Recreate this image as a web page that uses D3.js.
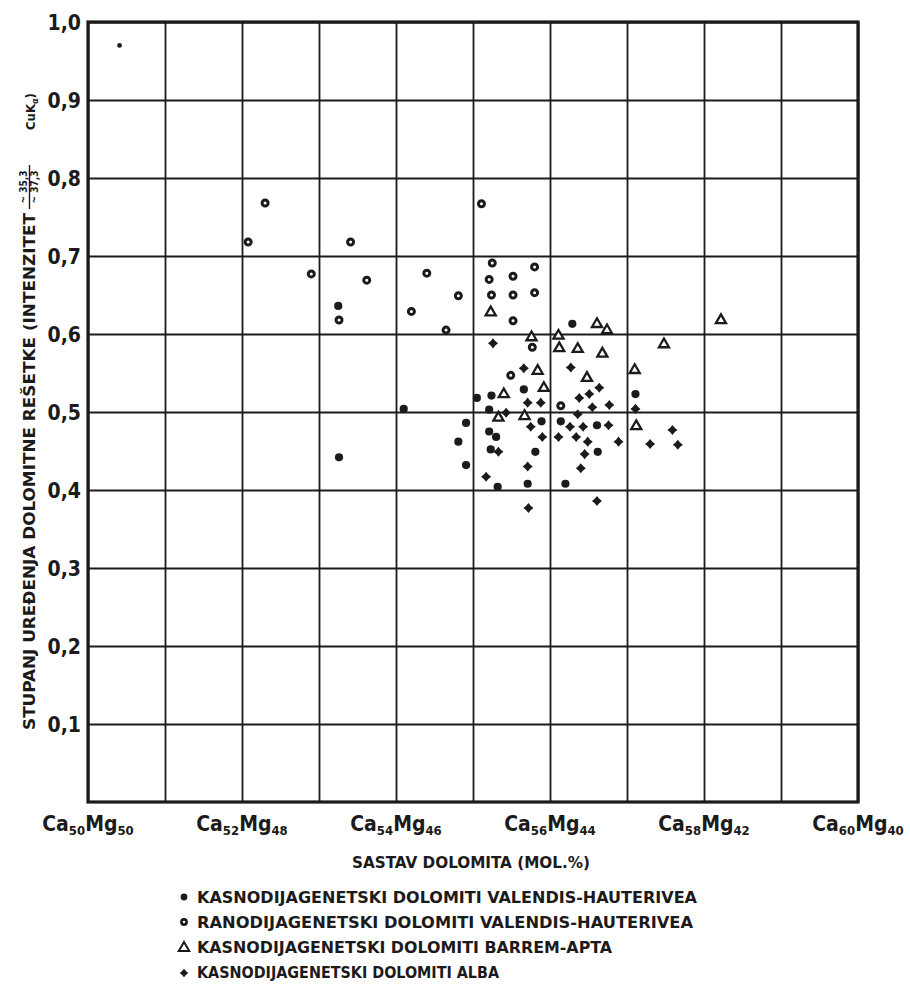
<!DOCTYPE html>
<html>
<head>
<meta charset="utf-8">
<script src="https://cdn.jsdelivr.net/npm/d3@7"></script>
<style>
  body { margin: 0; background: #fff; }
  svg { display: block; }
  text { fill: #1c1a1a; }
</style>
</head>
<body>
<div id="chart"></div>
<script>
// ticks on the axes
const xTicks = [50, 52, 54, 56, 58, 60];
const yTicks = [0.1, 0.2, 0.3, 0.4, 0.5, 0.6, 0.7, 0.8, 0.9, 1.0];

// Ca mol.% , ordering degree
const kasnoVH = [
  [50.41, 0.970], [53.25, 0.636], [53.26, 0.442], [54.10, 0.504], [54.91, 0.486],
  [54.81, 0.462], [54.91, 0.432], [55.05, 0.518], [55.24, 0.521], [55.21, 0.503],
  [55.21, 0.475], [55.30, 0.468], [55.23, 0.452], [55.32, 0.404], [55.66, 0.529],
  [55.89, 0.488], [55.81, 0.449], [55.71, 0.408], [56.29, 0.613], [56.14, 0.488],
  [56.61, 0.483], [56.62, 0.449], [56.20, 0.408], [57.11, 0.523]
];
const ranoVH = [
  [52.08, 0.718], [52.30, 0.768], [52.90, 0.677], [53.26, 0.618], [53.41, 0.718],
  [53.62, 0.669], [54.40, 0.678], [54.20, 0.629], [54.81, 0.649], [54.65, 0.605],
  [55.11, 0.767], [55.25, 0.691], [55.80, 0.686], [55.21, 0.670], [55.52, 0.674],
  [55.24, 0.650], [55.52, 0.650], [55.80, 0.653], [55.52, 0.617], [55.77, 0.583],
  [55.49, 0.547], [56.14, 0.508]
];
const barremApt = [
  [55.23, 0.629], [55.76, 0.597], [56.11, 0.599], [56.12, 0.583], [56.36, 0.582],
  [56.68, 0.576], [56.61, 0.614], [56.74, 0.606], [58.22, 0.619], [57.48, 0.588],
  [56.48, 0.545], [57.10, 0.555], [55.84, 0.554], [55.92, 0.532], [55.40, 0.524],
  [55.33, 0.494], [55.67, 0.496], [57.12, 0.483]
];
const alba = [
  [55.26, 0.588], [55.66, 0.556], [56.27, 0.557], [56.64, 0.531], [56.51, 0.523],
  [56.38, 0.518], [56.55, 0.506], [56.77, 0.509], [56.36, 0.497], [55.43, 0.499],
  [55.71, 0.512], [55.88, 0.512], [55.75, 0.481], [55.90, 0.468], [56.11, 0.468],
  [55.33, 0.449], [55.17, 0.417], [55.71, 0.430], [55.72, 0.377], [56.26, 0.481],
  [56.43, 0.481], [56.76, 0.483], [56.34, 0.468], [56.49, 0.462], [56.89, 0.462],
  [56.45, 0.446], [56.40, 0.428], [56.61, 0.386], [57.59, 0.477], [57.30, 0.459],
  [57.66, 0.458], [57.11, 0.504]
];

const legendLabels = [
  "KASNODIJAGENETSKI DOLOMITI VALENDIS-HAUTERIVEA",
  "RANODIJAGENETSKI DOLOMITI VALENDIS-HAUTERIVEA",
  "KASNODIJAGENETSKI DOLOMITI BARREM-APTA",
  "KASNODIJAGENETSKI DOLOMITI ALBA"
];

const width = 910, height = 992;
const ink = "#1c1a1a";
const condensed = "'DejaVu Sans Condensed', 'Liberation Sans Narrow', 'DejaVu Sans', sans-serif";

const svg = d3.select("#chart").append("svg")
  .attr("width", width)
  .attr("height", height);

const x = d3.scaleLinear().domain([50, 60]).range([88, 858]);
const y = d3.scaleLinear().domain([0, 1]).range([802, 22]);

// grid
const gridX = d3.axisBottom(x).ticks(10).tickSize(-(y(0) - y(1))).tickFormat("");
svg.append("g")
  .attr("transform", `translate(0,${y(0)})`)
  .call(gridX)
  .call(g => g.select(".domain").remove())
  .call(g => g.selectAll("line").attr("stroke", ink).attr("stroke-width", 1.8));

const gridY = d3.axisLeft(y).tickValues(yTicks).tickSize(-(x(60) - x(50))).tickFormat("");
svg.append("g")
  .attr("transform", `translate(${x(50)},0)`)
  .call(gridY)
  .call(g => g.select(".domain").remove())
  .call(g => g.selectAll("line").attr("stroke", ink).attr("stroke-width", 1.8));

// frame
svg.append("rect")
  .attr("x", x(50)).attr("y", y(1))
  .attr("width", x(60) - x(50)).attr("height", y(0) - y(1))
  .attr("fill", "none").attr("stroke", ink).attr("stroke-width", 3.2);

// y tick labels
svg.append("g").selectAll("text")
  .data(yTicks)
  .join("text")
    .attr("x", x(50) - 7)
    .attr("y", d => y(d) + 8)
    .attr("text-anchor", "end")
    .style("font-family", condensed)
    .style("font-weight", "bold")
    .style("font-size", "21px")
    .text(d => d3.format(".1f")(d).replace(".", ","));

// x tick labels  Ca..Mg..
const xl = svg.append("g").selectAll("text")
  .data(xTicks)
  .join("text")
    .attr("x", d => x(d))
    .attr("y", 831)
    .attr("text-anchor", "middle")
    .style("font-family", condensed)
    .style("font-weight", "bold")
    .style("font-size", "21px");
xl.append("tspan").text("Ca");
xl.append("tspan").attr("dy", 4).style("font-size", "13px").text(d => d);
xl.append("tspan").attr("dy", -4).text("Mg");
xl.append("tspan").attr("dy", 4).style("font-size", "13px").text(d => 100 - d);

// x title
svg.append("text")
  .attr("x", 352).attr("y", 868)
  .attr("textLength", 238).attr("lengthAdjust", "spacingAndGlyphs")
  .style("font-family", condensed)
  .style("font-weight", "bold")
  .style("font-size", "15px")
  .text("SASTAV DOLOMITA (MOL.%)");

// y title (rotated)
const yt = svg.append("g").attr("transform", "translate(35,0) rotate(-90)")
  .style("font-family", condensed)
  .style("font-weight", "bold");
yt.append("text")
  .attr("x", -730).attr("y", 0)
  .attr("textLength", 517).attr("lengthAdjust", "spacingAndGlyphs")
  .style("font-size", "15px")
  .text("STUPANJ UREĐENJA DOLOMITNE REŠETKE (INTENZITET");
yt.append("text")
  .attr("x", -187).attr("y", -8).attr("text-anchor", "middle")
  .style("font-size", "10px")
  .text("~ 35,3");
yt.append("line")
  .attr("x1", -209).attr("x2", -165).attr("y1", -5.5).attr("y2", -5.5)
  .attr("stroke", ink).attr("stroke-width", 1.4);
yt.append("text")
  .attr("x", -187).attr("y", 3).attr("text-anchor", "middle")
  .style("font-size", "10px")
  .text("~ 37,3");
const cu = yt.append("text")
  .attr("x", -130).attr("y", 0)
  .style("font-size", "13px");
cu.append("tspan").text("CuK");
cu.append("tspan").attr("dy", 3).style("font-size", "9px").text("α");
cu.append("tspan").attr("dy", -3).text(")");

// markers
const star = {
  draw(ctx, size) {
    const s = Math.sqrt(size) * 0.6, w = s * 0.45;
    ctx.moveTo(0, -s); ctx.lineTo(w, -w); ctx.lineTo(s, 0); ctx.lineTo(w, w);
    ctx.lineTo(0, s); ctx.lineTo(-w, w); ctx.lineTo(-s, 0); ctx.lineTo(-w, -w);
    ctx.closePath();
  }
};

function drawFilled(g, data) {
  g.selectAll("circle.f").data(data).join("circle").attr("class", "f")
    .attr("cx", d => x(d[0])).attr("cy", d => y(d[1]))
    .attr("r", (d, i) => i === 0 ? 2.4 : 4.1).attr("fill", ink);
}
function drawOpen(g, data) {
  g.selectAll("circle.o").data(data).join("circle").attr("class", "o")
    .attr("cx", d => x(d[0])).attr("cy", d => y(d[1]))
    .attr("r", 3.0).attr("fill", "#fff").attr("stroke", ink).attr("stroke-width", 3.0);
}
function drawTri(g, data) {
  g.selectAll("path.t").data(data).join("path").attr("class", "t")
    .attr("transform", d => `translate(${x(d[0])},${y(d[1]) + 1})`)
    .attr("d", d3.symbol(d3.symbolTriangle, 44))
    .attr("fill", "#fff").attr("stroke", ink).attr("stroke-width", 2.3)
    .attr("stroke-linejoin", "miter");
}
function drawStar(g, data) {
  g.selectAll("path.s").data(data).join("path").attr("class", "s")
    .attr("transform", d => `translate(${x(d[0])},${y(d[1])})`)
    .attr("d", d3.symbol(star, 70))
    .attr("fill", ink);
}

const pts = svg.append("g");
drawOpen(pts.append("g"), ranoVH);
drawTri(pts.append("g"), barremApt);
drawStar(pts.append("g"), alba);
drawFilled(pts.append("g"), kasnoVH);

// legend
const legY = [897, 922, 947, 972];
const legW = [500, 496, 415, 302];
const leg = svg.append("g");
leg.selectAll("text").data(legendLabels).join("text")
  .attr("x", 197).attr("y", (d, i) => legY[i] + 6)
  .attr("textLength", (d, i) => legW[i]).attr("lengthAdjust", "spacingAndGlyphs")
  .style("font-family", condensed)
  .style("font-weight", "bold")
  .style("font-size", "15px")
  .text(d => d);

leg.append("circle").attr("cx", 184).attr("cy", legY[0]).attr("r", 3.4).attr("fill", ink);
leg.append("circle").attr("cx", 184).attr("cy", legY[1]).attr("r", 2.6)
  .attr("fill", "#fff").attr("stroke", ink).attr("stroke-width", 2.6);
leg.append("path").attr("transform", `translate(184,${legY[2] + 1})`)
  .attr("d", d3.symbol(d3.symbolTriangle, 48))
  .attr("fill", "#fff").attr("stroke", ink).attr("stroke-width", 2);
leg.append("path").attr("transform", `translate(184,${legY[3] + 1})`)
  .attr("d", d3.symbol(star, 50)).attr("fill", ink);
</script>
</body>
</html>
